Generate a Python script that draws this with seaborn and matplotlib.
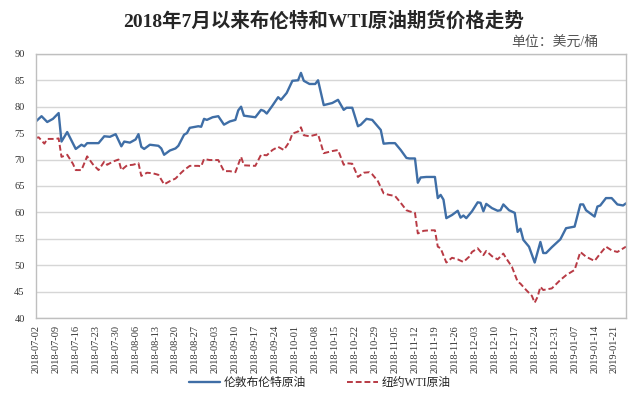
import pandas as pd
import matplotlib
matplotlib.use("Agg")
import matplotlib.pyplot as plt
import matplotlib.dates as mdates
import seaborn as sns

# Brent (London) daily prices, USD/barrel
brent_dates = [
    "2018-07-02", "2018-07-04", "2018-07-06", "2018-07-08", "2018-07-10", "2018-07-11",
    "2018-07-13", "2018-07-16", "2018-07-18", "2018-07-19", "2018-07-20", "2018-07-24",
    "2018-07-26", "2018-07-28", "2018-07-30", "2018-08-01", "2018-08-02", "2018-08-04",
    "2018-08-06", "2018-08-07", "2018-08-08", "2018-08-09", "2018-08-11", "2018-08-14",
    "2018-08-15", "2018-08-16", "2018-08-18", "2018-08-20", "2018-08-21", "2018-08-23",
    "2018-08-24", "2018-08-25", "2018-08-28", "2018-08-29", "2018-08-30", "2018-08-31",
    "2018-09-02", "2018-09-04", "2018-09-06", "2018-09-08", "2018-09-10", "2018-09-11",
    "2018-09-12", "2018-09-13", "2018-09-17", "2018-09-19", "2018-09-20", "2018-09-21",
    "2018-09-23", "2018-09-25", "2018-09-26", "2018-09-28", "2018-09-30", "2018-10-02",
    "2018-10-03", "2018-10-04", "2018-10-06", "2018-10-08", "2018-10-09", "2018-10-11",
    "2018-10-14", "2018-10-16", "2018-10-18", "2018-10-19", "2018-10-21", "2018-10-23",
    "2018-10-24", "2018-10-26", "2018-10-28", "2018-10-31", "2018-11-01", "2018-11-03",
    "2018-11-05", "2018-11-07", "2018-11-09", "2018-11-10", "2018-11-12", "2018-11-13",
    "2018-11-14", "2018-11-16", "2018-11-19", "2018-11-20", "2018-11-21", "2018-11-22",
    "2018-11-23", "2018-11-25", "2018-11-27", "2018-11-28", "2018-11-29", "2018-11-30",
    "2018-12-02", "2018-12-04", "2018-12-05", "2018-12-06", "2018-12-07", "2018-12-09",
    "2018-12-11", "2018-12-12", "2018-12-13", "2018-12-15", "2018-12-17", "2018-12-18",
    "2018-12-19", "2018-12-20", "2018-12-22", "2018-12-24", "2018-12-26", "2018-12-27",
    "2018-12-28", "2018-12-30", "2019-01-02", "2019-01-04", "2019-01-07", "2019-01-09",
    "2019-01-10", "2019-01-11", "2019-01-14", "2019-01-15", "2019-01-16", "2019-01-18",
    "2019-01-20", "2019-01-22", "2019-01-24", "2019-01-25",
]
brent_prices = [
    77.2, 78.2, 77.1, 77.7, 78.8, 73.4,
    75.2, 72.0, 72.8, 72.5, 73.1, 73.1,
    74.4, 74.3, 74.8, 72.5, 73.4, 73.2,
    73.8, 74.8, 72.4, 72.0, 72.8, 72.6,
    72.1, 70.9, 71.7, 72.1, 72.6, 74.7,
    75.0, 76.0, 76.3, 76.2, 77.7, 77.5,
    78.0, 78.2, 76.6, 77.2, 77.5, 79.3,
    80.0, 78.3, 78.0, 79.4, 79.2, 78.7,
    80.2, 81.8, 81.3, 82.6, 84.9, 85.0,
    86.4, 84.9, 84.3, 84.3, 85.0, 80.3,
    80.7, 81.3, 79.4, 79.8, 79.8, 76.3,
    76.6, 77.7, 77.5, 75.6, 73.0, 73.1,
    73.1, 71.8, 70.3, 70.2, 70.2, 65.6,
    66.6, 66.7, 66.7, 62.7, 63.3, 62.4,
    58.9, 59.5, 60.3, 59.0, 59.4, 58.9,
    60.2, 61.9, 61.8, 60.2, 61.6, 60.8,
    60.3, 60.4, 61.5, 60.4, 59.9, 56.3,
    56.9, 54.8, 53.5, 50.5, 54.4, 52.3,
    52.3, 53.4, 54.9, 57.0, 57.3, 61.5,
    61.5, 60.4, 59.2, 61.1, 61.3, 62.7,
    62.7, 61.5, 61.3, 61.7,
]

# WTI (New York) daily prices, USD/barrel
wti_dates = [
    "2018-07-02", "2018-07-03", "2018-07-05", "2018-07-06", "2018-07-09", "2018-07-10",
    "2018-07-11", "2018-07-13", "2018-07-15", "2018-07-16", "2018-07-18", "2018-07-20",
    "2018-07-22", "2018-07-24", "2018-07-26", "2018-07-27", "2018-07-29", "2018-07-31",
    "2018-08-01", "2018-08-03", "2018-08-05", "2018-08-07", "2018-08-08", "2018-08-10",
    "2018-08-12", "2018-08-14", "2018-08-16", "2018-08-18", "2018-08-20", "2018-08-22",
    "2018-08-23", "2018-08-25", "2018-08-28", "2018-08-29", "2018-08-30", "2018-09-01",
    "2018-09-04", "2018-09-06", "2018-09-08", "2018-09-10", "2018-09-12", "2018-09-13",
    "2018-09-17", "2018-09-19", "2018-09-21", "2018-09-23", "2018-09-25", "2018-09-27",
    "2018-09-29", "2018-09-30", "2018-10-02", "2018-10-03", "2018-10-04", "2018-10-06",
    "2018-10-09", "2018-10-11", "2018-10-14", "2018-10-16", "2018-10-18", "2018-10-19",
    "2018-10-21", "2018-10-23", "2018-10-25", "2018-10-27", "2018-10-28", "2018-10-30",
    "2018-11-01", "2018-11-03", "2018-11-05", "2018-11-07", "2018-11-09", "2018-11-10",
    "2018-11-12", "2018-11-13", "2018-11-15", "2018-11-17", "2018-11-19", "2018-11-20",
    "2018-11-21", "2018-11-23", "2018-11-25", "2018-11-27", "2018-11-29", "2018-12-01",
    "2018-12-02", "2018-12-04", "2018-12-06", "2018-12-07", "2018-12-09", "2018-12-11",
    "2018-12-13", "2018-12-14", "2018-12-16", "2018-12-18", "2018-12-19", "2018-12-21",
    "2018-12-23", "2018-12-24", "2018-12-25", "2018-12-26", "2018-12-27", "2018-12-28",
    "2018-12-30", "2019-01-02", "2019-01-04", "2019-01-07", "2019-01-09", "2019-01-11",
    "2019-01-14", "2019-01-16", "2019-01-18", "2019-01-20", "2019-01-22", "2019-01-25",
]
wti_prices = [
    74.1, 74.2, 73.0, 73.9, 73.9, 74.0,
    70.5, 70.9, 69.2, 68.0, 68.0, 70.6,
    69.1, 68.0, 69.6, 69.0, 69.6, 70.0,
    68.0, 68.9, 69.0, 69.3, 66.9, 67.5,
    67.4, 67.1, 65.3, 65.9, 66.4, 67.5,
    68.0, 68.8, 68.8, 68.7, 70.1, 69.9,
    69.9, 67.8, 67.8, 67.6, 70.5, 68.9,
    68.8, 70.9, 70.8, 71.8, 72.4, 71.8,
    73.4, 74.9, 75.3, 76.1, 74.6, 74.4,
    74.8, 71.2, 71.6, 71.8, 69.0, 69.3,
    69.2, 66.7, 67.5, 67.6, 67.2, 65.9,
    63.6, 63.3, 63.1, 61.8, 60.4, 60.2,
    59.9, 56.0, 56.5, 56.6, 56.6, 53.5,
    53.2, 50.5, 51.4, 51.1, 50.6, 51.6,
    52.5, 53.2, 51.9, 52.7, 51.7, 51.1,
    52.2, 51.3, 49.7, 46.9, 46.5, 45.3,
    44.2, 42.9, 44.0, 45.9, 45.3, 45.4,
    45.6, 47.2, 48.1, 49.1, 52.5, 51.6,
    50.8, 52.2, 53.5, 52.8, 52.5, 53.5,
]

series_names = ["伦敦布伦特原油", "纽约WTI原油"]
title_text = "2018年7月以来布伦特和WTI原油期货价格走势"
unit_text = "单位：美元/桶"

brent = pd.DataFrame({"date": pd.to_datetime(brent_dates), "price": brent_prices})
wti = pd.DataFrame({"date": pd.to_datetime(wti_dates), "price": wti_prices})

sns.set_style("white")
plt.rcParams["font.family"] = ["Liberation Serif", "Noto Sans CJK SC", "DejaVu Sans"]

fig, ax = plt.subplots(figsize=(6.4, 3.99), dpi=100)
fig.subplots_adjust(left=0.056, right=0.978, top=0.865, bottom=0.203)

sns.lineplot(data=brent, x="date", y="price", ax=ax, color="#3f6ea6",
             linewidth=1.7, label=series_names[0])
sns.lineplot(data=wti, x="date", y="price", ax=ax, color="#b83a44",
             linewidth=1.4, linestyle=(0, (3, 1.5)), label=series_names[1])

ax.set_ylim(40, 90)
ax.set_yticks(range(40, 91, 5))
ax.set_xlim(pd.Timestamp("2018-07-02"), pd.Timestamp("2019-01-25"))
ticks = pd.date_range("2018-07-02", "2019-01-21", freq="7D")
ax.set_xticks(ticks)
ax.xaxis.set_major_formatter(mdates.DateFormatter("%Y-%m-%d"))
ax.tick_params(axis="x", rotation=90, labelsize=7.5, length=3, color="#999999",
               direction="out", pad=2, labelcolor="#333333")
ax.tick_params(axis="y", labelsize=7.5, length=0, pad=8, labelcolor="#333333")
ax.grid(axis="y", color="#d6d6d6", linewidth=1)
for s in ax.spines.values():
    s.set_color("#bfbfbf")
    s.set_linewidth(1)
ax.set_xlabel("")
ax.set_ylabel("")

fig.text(0.505, 0.948, title_text, ha="center", va="center", fontsize=14,
         fontweight="bold")
fig.text(0.935, 0.893, unit_text, ha="right", va="center", fontsize=10,
         color="#555555")

ax.get_legend().remove()
handles, labels = ax.get_legend_handles_labels()
fig.legend(handles, labels, loc="center", bbox_to_anchor=(0.5, 0.04), ncol=2,
           frameon=False, fontsize=8.5, handlelength=2.6, columnspacing=3.5,
           handletextpad=0.3)

fig.savefig("out.png", dpi=100)
